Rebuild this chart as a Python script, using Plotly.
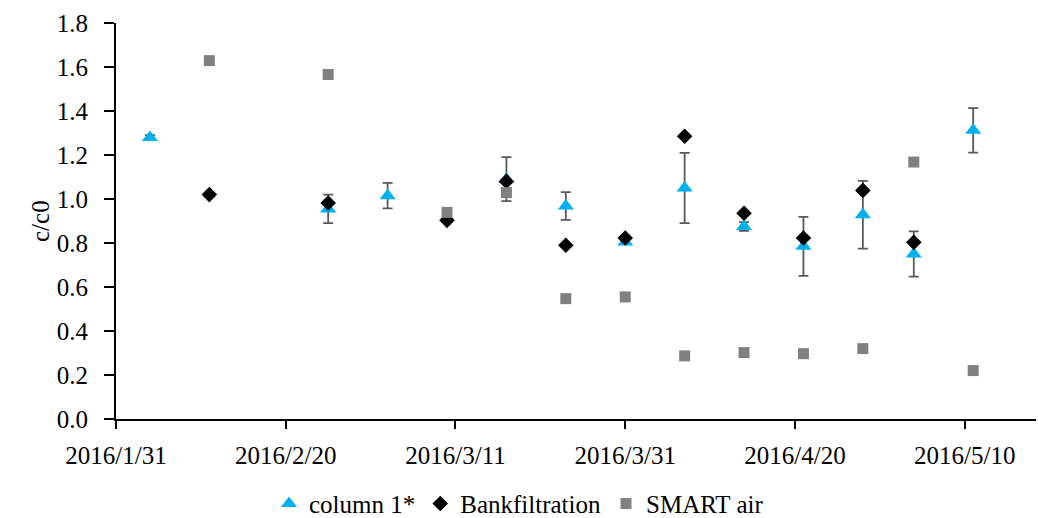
import plotly.graph_objects as go
import pandas as pd

# ---- data ----
col1_dates = ["2016-02-04", "2016-02-25", "2016-03-03", "2016-03-17", "2016-03-24", "2016-03-31",
              "2016-04-07", "2016-04-14", "2016-04-21", "2016-04-28", "2016-05-04", "2016-05-11"]
col1_values = [1.28, 0.955, 1.015, 1.09, 0.968, 0.805, 1.05, 0.875, 0.785, 0.928, 0.75, 1.312]
col1_errors = [0.01, 0.065, 0.058, 0.10, 0.063, 0.01, 0.16, 0.02, 0.134, 0.154, 0.103, 0.101]

bank_dates = ["2016-02-11", "2016-02-25", "2016-03-10", "2016-03-17", "2016-03-24", "2016-03-31",
              "2016-04-07", "2016-04-14", "2016-04-21", "2016-04-28", "2016-05-04"]
bank_values = [1.02, 0.982, 0.903, 1.08, 0.79, 0.823, 1.285, 0.935, 0.823, 1.039, 0.803]

smart_dates = ["2016-02-11", "2016-02-25", "2016-03-10", "2016-03-17", "2016-03-24", "2016-03-31",
               "2016-04-07", "2016-04-14", "2016-04-21", "2016-04-28", "2016-05-04", "2016-05-11"]
smart_values = [1.629, 1.566, 0.939, 1.029, 0.547, 0.555, 0.287, 0.302, 0.297, 0.32, 1.168, 0.22]

x_tick_vals = ["2016-01-31", "2016-02-20", "2016-03-11", "2016-03-31", "2016-04-20", "2016-05-10"]
x_tick_text = ["2016/1/31", "2016/2/20", "2016/3/11", "2016/3/31", "2016/4/20", "2016/5/10"]
y_tick_vals = [0.0, 0.2, 0.4, 0.6, 0.8, 1.0, 1.2, 1.4, 1.6, 1.8]
y_tick_text = ["0.0", "0.2", "0.4", "0.6", "0.8", "1.0", "1.2", "1.4", "1.6", "1.8"]
y_title = "c/c0"

FONT = "Liberation Serif"
FS = 25

fig = go.Figure()
fig.add_trace(go.Scatter(
    x=pd.to_datetime(col1_dates), y=col1_values, mode="markers", name="column 1*",
    marker=dict(symbol="triangle-up", size=14, color="#00B0F0"),
    error_y=dict(type="data", array=col1_errors, visible=True, color="#595959",
                 thickness=1.8, width=5),
))
fig.add_trace(go.Scatter(
    x=pd.to_datetime(bank_dates), y=bank_values, mode="markers", name="Bankfiltration",
    marker=dict(symbol="diamond", size=12, color="#000000"),
))
fig.add_trace(go.Scatter(
    x=pd.to_datetime(smart_dates), y=smart_values, mode="markers", name="SMART air",
    marker=dict(symbol="square", size=11, color="#808080"),
))

start = pd.Timestamp("2016-01-31")
end = start + pd.Timedelta(days=108.4)

fig.update_layout(
    width=1038, height=518,
    margin=dict(l=116, r=2, t=23, b=99, autoexpand=False),
    paper_bgcolor="white", plot_bgcolor="white",
    font=dict(family=FONT, size=FS, color="#000000"),
    showlegend=True,
    legend=dict(orientation="h", xref="container", x=0.5, xanchor="center",
                yref="paper", y=-0.214, yanchor="middle",
                font=dict(family=FONT, size=FS), itemwidth=30),
    xaxis=dict(
        range=[start, end], tickmode="array", automargin=False,
        tickvals=pd.to_datetime(x_tick_vals), ticktext=x_tick_text,
        showgrid=False, zeroline=False, showline=True, linecolor="#000000", linewidth=2,
        ticks="outside", ticklen=8, tickwidth=2, tickcolor="#000000",
        tickfont=dict(family=FONT, size=FS), ticklabelstandoff=5,
    ),
    yaxis=dict(
        range=[0, 1.8], tickmode="array", tickvals=y_tick_vals, ticktext=y_tick_text,
        automargin=False,
        showgrid=False, zeroline=False, showline=True, linecolor="#000000", linewidth=2,
        ticks="outside", ticklen=10, tickwidth=2, tickcolor="#000000",
        tickfont=dict(family=FONT, size=FS), ticklabelstandoff=11,
    ),
    annotations=[dict(text=y_title, xref="paper", yref="paper", x=(40 - 116) / 920, y=0.5,
                      xanchor="center", yanchor="middle", textangle=-90, showarrow=False,
                      font=dict(family=FONT, size=FS))],
)

fig.write_html("out.html", config={"displayModeBar": False},
               post_script="document.body.style.margin='0';")
